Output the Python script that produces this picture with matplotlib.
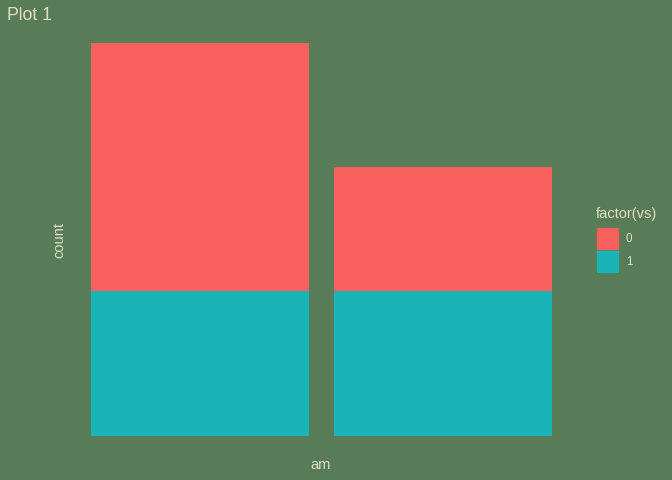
import matplotlib
matplotlib.use("Agg")
from matplotlib import pyplot as plt
from matplotlib.patches import Rectangle

plt.rcParams['font.family'] = ['Liberation Sans', 'DejaVu Sans']

am = [0, 1]
vs1_counts = [7, 7]
vs0_counts = [12, 6]
vs_labels = ["0", "1"]

bg = "#587b58"
txt = "#e2e0c0"
red = "#f8605d"
teal = "#19b4b8"

W, H = 672, 480
fig = plt.figure(figsize=(6.72, 4.8), dpi=100, facecolor=bg)
ax = fig.add_axes([55 / W, 24.4 / H, 533 / W, 432 / H])
ax.set_facecolor(bg)

x = [a + 1 for a in am]
ax.bar(x, vs1_counts, width=0.9, color=teal)
ax.bar(x, vs0_counts, width=0.9, bottom=vs1_counts, color=red)

total = max(a + b for a, b in zip(vs0_counts, vs1_counts))
ax.set_xlim(0.4, 2.6)
ax.set_ylim(-0.05 * total, total * 1.05)
ax.set_xticks([])
ax.set_yticks([])
for s in ax.spines.values():
    s.set_visible(False)

# axis titles / plot title
fig.text(321 / W, 1 - 465 / H, "am", color=txt, fontsize=10.5, ha="center", va="center")
fig.text(59 / W, 1 - 240 / H, "count", color=txt, fontsize=10.5, ha="center", va="center", rotation=90)
fig.text(7 / W, 1 - 16 / H, "Plot 1", color=txt, fontsize=12.7, va="center", ha="left")

# legend drawn by hand
cols = [red, teal]
fig.text(596 / W, 1 - 214 / H, "factor(vs)", color=txt, fontsize=10.5, ha="left", va="center")
for i, (lab, c) in enumerate(zip(vs_labels, cols)):
    top = 228 + i * 23
    fig.patches.append(Rectangle((597 / W, 1 - (top + 21) / H), 21 / W, 21 / H,
                                 transform=fig.transFigure, color=c, figure=fig))
    fig.text(626 / W, 1 - (top + 11) / H, lab, color=txt, fontsize=8.4, ha="left", va="center")

fig.savefig("out.png", dpi=100, facecolor=bg)
